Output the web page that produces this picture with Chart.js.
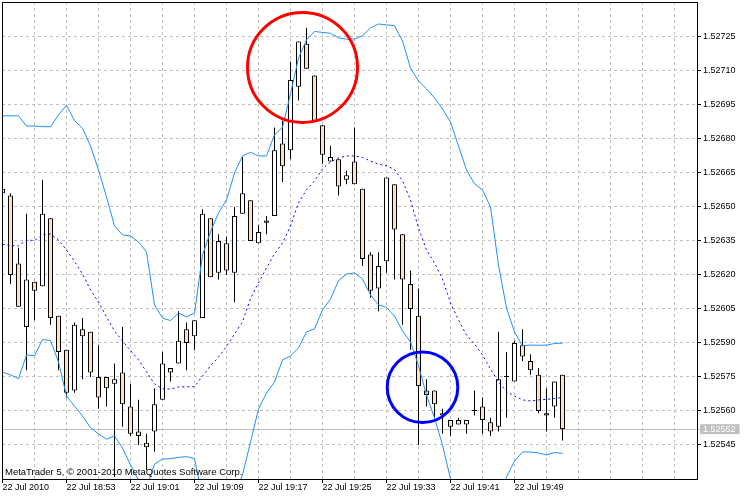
<!DOCTYPE html>
<html><head><meta charset="utf-8">
<script src="https://cdn.jsdelivr.net/npm/chart.js@4.4.1/dist/chart.umd.min.js"></script>
<style>html,body{margin:0;padding:0;background:#fff}#wrap{width:750px;height:500px}</style>
</head><body><div id="wrap"><canvas id="c" width="750" height="500"></canvas></div>
<script>
// ---- data (M1 bars, 22 Jul 2010) ----
const candleTimes = ['18:45','18:46','18:47','18:48','18:49','18:50','18:51','18:52','18:53','18:54',
 '18:55','18:56','18:57','18:58','18:59','19:00','19:01','19:02','19:03','19:04',
 '19:05','19:06','19:07','19:08','19:09','19:10','19:11','19:12','19:13','19:14',
 '19:15','19:16','19:17','19:18','19:19','19:20','19:21','19:22','19:23','19:24',
 '19:25','19:26','19:27','19:28','19:29','19:30','19:31','19:32','19:33','19:34',
 '19:35','19:36','19:37','19:38','19:39','19:40','19:41','19:42','19:43','19:44',
 '19:45','19:46','19:47','19:48','19:49','19:50','19:51','19:52','19:53','19:54','19:55'];
const opens = [1.52656,1.52655,1.52625,1.52597,1.52617,1.52615,1.52645,1.52602,1.52587,1.52569,
 1.52596,1.52595,1.52575,1.52575,1.52572,1.52577,1.52562,1.52551,1.52546,1.52551,
 1.52565,1.52579,1.52581,1.52596,1.52593,1.52601,1.52645,1.52621,1.52634,1.52621,
 1.52647,1.52653,1.52634,1.52644,1.52646,1.52678,1.52675,1.52703,1.52722,1.52708,
 1.52686,1.52670,1.52671,1.52662,1.52670,1.52658,1.52629,1.52614,1.52626,1.52660,
 1.52638,1.52616,1.52602,1.52569,1.52569,1.52558,1.52556,1.52554,1.52554,1.52560,
 1.52562,1.52555,1.52553,1.52575,1.52573,1.52589,1.52582,1.52576,1.52559,1.52562,1.52576];
const highs = [1.52659,1.52656,1.52632,1.52647,1.52617,1.52662,1.52645,1.52602,1.52587,1.52599,
 1.52601,1.52595,1.52589,1.52575,1.52581,1.52597,1.52572,1.52565,1.52550,1.52570,
 1.52586,1.52579,1.52604,1.52599,1.52600,1.52649,1.52645,1.52638,1.52637,1.52650,
 1.52672,1.52653,1.52642,1.52646,1.52685,1.52688,1.52714,1.52723,1.52729,1.52708,
 1.52686,1.52677,1.52671,1.52666,1.52685,1.52658,1.52630,1.52630,1.52663,1.52660,
 1.52638,1.52622,1.52614,1.52574,1.52569,1.52561,1.52556,1.52557,1.52556,1.52569,
 1.52566,1.52557,1.52595,1.52586,1.52591,1.52596,1.52585,1.52579,1.52570,1.52573,1.52576];
const lows = [1.52655,1.52616,1.52606,1.52578,1.52600,1.52615,1.52598,1.52578,1.52566,1.52568,
 1.52574,1.52575,1.52561,1.52562,1.52531,1.52553,1.52549,1.52545,1.52534,1.52542,
 1.52565,1.52573,1.52581,1.52578,1.52587,1.52601,1.52619,1.52618,1.52620,1.52608,
 1.52647,1.52635,1.52634,1.52638,1.52646,1.52661,1.52671,1.52697,1.52711,1.52688,
 1.52669,1.52670,1.52655,1.52660,1.52660,1.52624,1.52610,1.52604,1.52621,1.52618,
 1.52598,1.52587,1.52545,1.52562,1.52557,1.52550,1.52549,1.52554,1.52550,1.52558,
 1.52550,1.52549,1.52551,1.52557,1.52573,1.52582,1.52576,1.52559,1.52551,1.52557,1.52547];
const closes = [1.52658,1.52620,1.52606,1.52618,1.52613,1.52647,1.52601,1.52586,1.52568,1.52598,
 1.52593,1.52577,1.52566,1.52570,1.52574,1.52563,1.52550,1.52549,1.52544,1.52563,
 1.52581,1.52577,1.52591,1.52590,1.52600,1.52647,1.52619,1.52635,1.52622,1.52646,
 1.52656,1.52635,1.52639,1.52643,1.52675,1.52668,1.52706,1.52723,1.52711,1.52688,
 1.52673,1.52672,1.52659,1.52664,1.52660,1.52627,1.52613,1.52624,1.52663,1.52640,
 1.52618,1.52605,1.52571,1.52567,1.52563,1.52559,1.52553,1.52556,1.52556,1.52560,
 1.52556,1.52551,1.52574,1.52575,1.52590,1.52584,1.52578,1.52560,1.52558,1.52573,1.52552];
const upperBand = [1.526902,1.526902,1.526902,1.526857,1.526857,1.526854,1.526854,1.526906,1.526949,1.526881,
 1.526847,1.526769,1.526663,1.526544,1.526416,1.526377,1.526372,1.526346,1.526302,1.526068,
 1.526010,1.525999,1.526032,1.526015,1.526032,1.526288,1.526390,1.526474,1.526531,1.526650,
 1.526725,1.526741,1.526725,1.526725,1.526818,1.526851,1.526999,1.527157,1.527237,1.527274,
 1.527270,1.527266,1.527246,1.527240,1.527241,1.527255,1.527290,1.527307,1.527303,1.527300,
 1.527232,1.527113,1.527056,1.527021,1.526981,1.526932,1.526875,1.526769,1.526663,1.526602,
 1.526575,1.526500,1.526244,1.526054,1.525949,1.525887,1.525891,1.525890,1.525890,1.525898,1.525899];
const middleBand = [1.526335,1.526330,1.526328,1.526354,1.526352,1.526377,1.526381,1.526354,1.526310,1.526260,
 1.526204,1.526134,1.526081,1.526015,1.525953,1.525909,1.525867,1.525825,1.525773,1.525719,
 1.525697,1.525697,1.525706,1.525707,1.525707,1.525754,1.525799,1.525838,1.525884,1.525940,
 1.525993,1.526096,1.526165,1.526231,1.526293,1.526341,1.526416,1.526518,1.526575,1.526615,
 1.526668,1.526699,1.526716,1.526725,1.526725,1.526718,1.526703,1.526688,1.526682,1.526665,
 1.526615,1.526531,1.526407,1.526310,1.526253,1.526182,1.526077,1.526001,1.525935,1.525896,
 1.525847,1.525785,1.525728,1.525686,1.525666,1.525649,1.525644,1.525649,1.525651,1.525655,1.525659];
const lowerBand = [1.525772,1.525759,1.525743,1.525847,1.525844,1.525915,1.525911,1.525816,1.525666,1.525622,
 1.525578,1.525527,1.525499,1.525476,1.525490,1.525437,1.525362,1.525296,1.525260,1.525366,
 1.525388,1.525390,1.525395,1.525399,1.525390,1.525221,1.525207,1.525203,1.525238,1.525229,
 1.525318,1.525463,1.525609,1.525679,1.525728,1.525825,1.525843,1.525878,1.525949,1.525962,
 1.526046,1.526094,1.526174,1.526204,1.526209,1.526182,1.526112,1.526068,1.526057,1.526019,
 1.525953,1.525904,1.525799,1.525671,1.525569,1.525450,1.525300,1.525234,1.525207,1.525190,
 1.525119,1.525071,1.525212,1.525309,1.525379,1.525419,1.525419,1.525415,1.525406,1.525417,1.525413];
const xTickLabels = ['22 Jul 2010','22 Jul 18:53','22 Jul 19:01','22 Jul 19:09','22 Jul 19:17','22 Jul 19:25','22 Jul 19:33','22 Jul 19:41','22 Jul 19:49'];
const yTickValues = [1.52545,1.52552,1.52560,1.52575,1.52590,1.52605,1.52620,1.52635,1.52650,1.52665,1.52680,1.52695,1.52710,1.52725];
const currentPrice = 1.52552;
const markerX = [37.5, 52.5];
const markerY = [1.5271155, 1.5257046];
const copyrightText = 'MetaTrader 5, \u00A9 2001-2010 MetaQuotes Software Corp.';

// ---- chart ----
const FONT = "'Liberation Sans', Arial, sans-serif";
const idx = opens.map((_, i) => i);
const isBull = opens.map((o, i) => closes[i] >= o);
const gridIdx = [];
for (let k = 0; k <= 84; k += 4) gridIdx.push(k);
const isCur = (c) => c && c.tick && Math.abs(c.tick.value - currentPrice) < 1e-9;

const framePlugin = {
  id: 'frame',
  afterDraw(chart) {
    const {ctx, chartArea: a} = chart;
    ctx.save();
    ctx.strokeStyle = '#000';
    ctx.lineWidth = 1;
    ctx.beginPath();
    ctx.moveTo(a.left + 0.5, a.bottom);
    ctx.lineTo(a.left + 0.5, a.top + 0.5);
    ctx.lineTo(a.right, a.top + 0.5);
    ctx.stroke();
    ctx.fillStyle = '#000';
    ctx.font = "9.5px " + FONT;
    ctx.textBaseline = 'alphabetic';
    ctx.textAlign = 'left';
    ctx.fillText(copyrightText, a.left + 3, a.bottom - 4);
    ctx.restore();
  }
};

new Chart(document.getElementById('c'), {
  type: 'bar',
  data: {
    datasets: [
      { type: 'scatter', data: [{x: markerX[0], y: markerY[0]}], pointRadius: 55, pointBorderWidth: 3,
        pointBorderColor: '#FF0000', pointBackgroundColor: 'rgba(0,0,0,0)', order: 0 },
      { type: 'scatter', data: [{x: markerX[1], y: markerY[1]}], pointRadius: 35.3, pointBorderWidth: 3,
        pointBorderColor: '#0000FF', pointBackgroundColor: 'rgba(0,0,0,0)', order: 0 },
      { type: 'line', data: upperBand.map((v, i) => ({x: i, y: v})), borderColor: '#1E90FF', borderWidth: 1,
        pointRadius: 0, tension: 0, fill: false, order: 1 },
      { type: 'line', data: lowerBand.map((v, i) => ({x: i, y: v})), borderColor: '#1E90FF', borderWidth: 1,
        pointRadius: 0, tension: 0, fill: false, order: 1 },
      { type: 'line', data: middleBand.map((v, i) => ({x: i, y: v})), borderColor: '#0000FF', borderWidth: 1,
        borderDash: [2, 3], pointRadius: 0, tension: 0, fill: false, order: 1 },
      { type: 'bar', data: idx.map(i => ({x: i, y: [opens[i], closes[i]]})),
        backgroundColor: isBull.map(b => b ? '#FFFFFF' : '#FCE4B8'), borderColor: '#000000', borderWidth: 1,
        borderSkipped: false, barThickness: 5, grouped: false, minBarLength: 1, inflateAmount: 0, order: 2 },
      { type: 'bar', data: idx.map(i => ({x: i, y: [lows[i], highs[i]]})),
        backgroundColor: '#000000', borderWidth: 0, barThickness: 1, grouped: false, inflateAmount: 0, order: 3 }
    ]
  },
  options: {
    responsive: false,
    animation: false,
    devicePixelRatio: 1,
    events: [],
    layout: { autoPadding: false, padding: { left: 2, top: 2, right: 0, bottom: 0 } },
    plugins: { legend: { display: false }, tooltip: { enabled: false } },
    scales: {
      x: {
        type: 'linear', position: 'bottom', min: -0.0625, max: 86.8125, bounds: 'data', offset: false,
        grid: { offset: false, color: '#C0C0C0', lineWidth: 1, drawTicks: true, tickLength: 4,
          tickColor: (c) => (c.tick && c.tick.label) ? '#000000' : 'rgba(0,0,0,0)' },
        border: { display: true, color: '#000000', width: 1, dash: [3, 3] },
        ticks: { autoSkip: false, maxRotation: 0, minRotation: 0, align: 'start', padding: 0, color: '#000',
          font: { family: FONT, size: 9, lineHeight: 1.1 },
          callback: (v) => (v % 8 === 0 && xTickLabels[v / 8]) ? xTickLabels[v / 8] : '' },
        afterBuildTicks: (s) => { s.ticks = gridIdx.map(v => ({value: v})); },
        afterFit: (s) => { s.height = 21; s.paddingLeft = 0; s.paddingRight = 0; }
      },
      y: {
        type: 'linear', position: 'right', min: 1.52530, max: 1.527404, bounds: 'data',
        grid: { color: '#C0C0C0', lineWidth: 1, drawTicks: true, tickLength: 4,
          tickColor: (c) => isCur(c) ? '#C0C0C0' : '#000000' },
        border: { display: true, color: '#000000', width: 1, dash: (c) => isCur(c) ? [] : [3, 3] },
        ticks: { padding: 2, color: (c) => isCur(c) ? '#FFFFFF' : '#000000',
          showLabelBackdrop: (c) => isCur(c), backdropColor: '#C0C0C0',
          backdropPadding: { left: 3, right: 4, top: 0, bottom: 0 },
          font: { family: FONT, size: 9, lineHeight: 1.1 },
          callback: (v) => Number(v).toFixed(5) },
        afterBuildTicks: (s) => { s.ticks = yTickValues.map(v => ({value: v})); },
        afterFit: (s) => { s.width = 53; s.paddingTop = 0; s.paddingBottom = 0; }
      }
    }
  },
  plugins: [framePlugin]
});
</script>
</body></html>
